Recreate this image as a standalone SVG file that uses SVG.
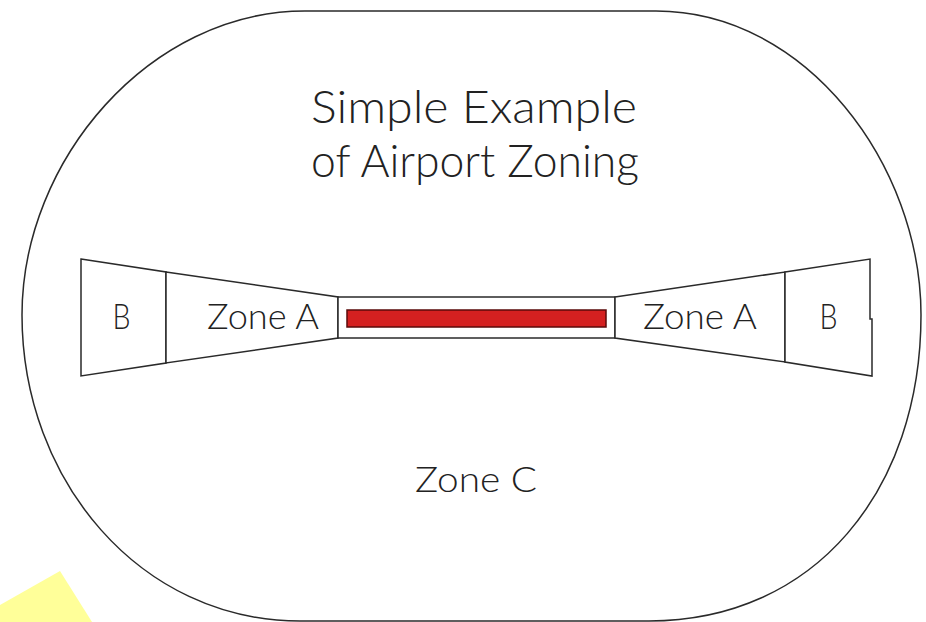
<svg xmlns="http://www.w3.org/2000/svg" width="926" height="622" viewBox="0 0 926 622">
<style>
.ln{fill:none;stroke:#2a2a2a;stroke-width:1.5;stroke-linejoin:miter}
.zone{fill:#ffffff;stroke:#2a2a2a;stroke-width:1.5}
.t{font-family:"Lato","Liberation Sans","Arial",sans-serif;fill:#222;font-weight:300}
.lbl{font-size:36px}
.ttl{font-size:45px}
</style>
<rect width="926" height="622" fill="#ffffff"/>
<g id="highlight">
<polygon points="0,605 60,571 92,622 0,622" fill="#ffff99"/>
</g>
<g id="zone-c-boundary">
<path class="ln" d="M305,11 L656,11 C806,11 921,165 921,315 C921,490 815,621 649,621 L300,621 C140,621 22,480 22,315 C22,160 150,11 305,11 Z"/>
</g>
<g id="title">
<text class="t ttl" x="474" y="123" text-anchor="middle" textLength="326" lengthAdjust="spacingAndGlyphs">Simple Example</text>
<text class="t ttl" x="475" y="177" text-anchor="middle" textLength="328" lengthAdjust="spacingAndGlyphs">of Airport Zoning</text>
</g>
<g id="zone-b-left">
<polygon class="zone" points="81,259 166,272 166,363 81,376"/>
<text class="t lbl" x="121.5" y="329" text-anchor="middle" textLength="18" lengthAdjust="spacingAndGlyphs">B</text>
</g>
<g id="zone-a-left">
<polygon class="zone" points="166,272 338,297 338,338 166,363"/>
<text class="t lbl" x="263" y="329" text-anchor="middle" textLength="112" lengthAdjust="spacingAndGlyphs">Zone A</text>
</g>
<g id="runway">
<rect class="zone" x="338" y="297" width="277" height="41"/>
<rect x="347" y="310" width="259" height="17" fill="#d42020" stroke="#5a0a0a" stroke-width="1.5"/>
</g>
<g id="zone-a-right">
<polygon class="zone" points="615,297 785,272 785,362 615,338"/>
<text class="t lbl" x="700" y="329" text-anchor="middle" textLength="114" lengthAdjust="spacingAndGlyphs">Zone A</text>
</g>
<g id="zone-b-right">
<path class="zone" d="M785,272 L870,259 L870,319 L872,319 L872,376 L785,362 Z"/>
<text class="t lbl" x="828.5" y="329" text-anchor="middle" textLength="18" lengthAdjust="spacingAndGlyphs">B</text>
</g>
<g id="zone-c-label">
<text class="t lbl" x="476" y="492" text-anchor="middle" textLength="122" lengthAdjust="spacingAndGlyphs">Zone C</text>
</g>
<g id="connectors"/>
</svg>
